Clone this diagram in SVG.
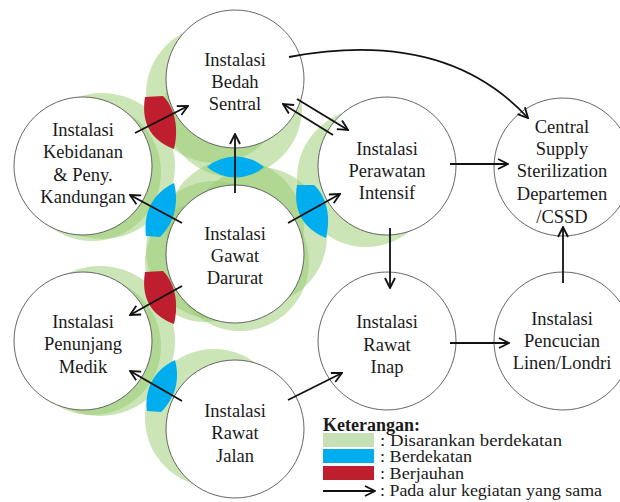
<svg xmlns="http://www.w3.org/2000/svg" width="620" height="502" viewBox="0 0 620 502">
<defs>
<style>
.g{fill:#98cc70;fill-opacity:0.5}
.blue{fill:#00aeef}
.red{fill:#be1e2d}
.node{fill:#fff;stroke:#555;stroke-width:0.9}
.t{font-family:"Liberation Serif","Times New Roman",serif;font-size:18.5px;fill:#1a1a1a;text-anchor:middle}
.lt{font-family:"Liberation Serif","Times New Roman",serif;font-size:16px;fill:#1a1a1a}
.c{fill:none;stroke:#111;stroke-width:1.8}
</style>
<marker id="ah" viewBox="0 0 12 12" refX="11" refY="6" markerWidth="12" markerHeight="12" markerUnits="userSpaceOnUse" orient="auto">
<path d="M1,1 L11,6 L1,11" fill="none" stroke="#111" stroke-width="1.8"/>
</marker>
</defs>
<rect width="620" height="502" fill="#fff"/>
<g id="zones">
<circle class="g" cx="102" cy="166" r="73"/>
<circle class="g" cx="92" cy="172" r="69"/>
<circle class="g" cx="100" cy="341" r="75"/>
<circle class="g" cx="92" cy="346" r="69"/>
<circle class="g" cx="215" cy="94" r="69"/>
<circle class="g" cx="233" cy="108" r="69"/>
<circle class="g" cx="235" cy="228" r="69"/>
<circle class="g" cx="215" cy="250" r="69"/>
<circle class="g" cx="205" cy="262" r="60"/>
<circle class="g" cx="258" cy="236" r="69"/>
<circle class="g" cx="240" cy="262" r="69"/>
<circle class="g" cx="366" cy="178" r="69"/>
<circle class="g" cx="214" cy="418" r="69"/>
<path class="red" d="M145,97 C141,122 150,140 174,149 C179,128 175,108 163,96 Z"/>
<path class="blue" d="M174,183 C153,193 143,212 146,236 L160,237 C175,222 179,202 174,183 Z"/>
<path class="red" d="M145,272 C141,297 150,315 174,324 C179,303 175,283 163,271 Z"/>
<path class="blue" d="M175,360 C154,370 144,389 147,411 L161,412 C176,397 180,379 175,360 Z"/>
<path class="blue" d="M297,185 C293,210 302,228 326,238 C331,217 327,197 314,185 Z"/>
<path class="blue" d="M207,167 A44,44 0 0,1 264,167 A44,44 0 0,1 207,167 Z"/>
</g>
<g id="bedah"><circle class="node" cx="235" cy="79" r="69"/><text class="t" x="235" y="65.5">Instalasi</text><text class="t" x="235" y="88">Bedah</text><text class="t" x="235" y="110">Sentral</text></g>
<g id="kebidanan"><circle class="node" cx="83" cy="166" r="69"/><text class="t" x="83" y="136">Instalasi</text><text class="t" x="83" y="158">Kebidanan</text><text class="t" x="83" y="181">&amp; Peny.</text><text class="t" x="83" y="203">Kandungan</text></g>
<g id="perawatan"><circle class="node" cx="387" cy="166" r="69"/><text class="t" x="387" y="155">Instalasi</text><text class="t" x="387" y="177">Perawatan</text><text class="t" x="387" y="199">Intensif</text></g>
<g id="cssd"><circle class="node" cx="563" cy="167" r="69"/><text class="t" x="562" y="133">Central</text><text class="t" x="562" y="155">Supply</text><text class="t" x="562" y="177">Sterilization</text><text class="t" x="562" y="200">Departemen</text><text class="t" x="562" y="222.5">/CSSD</text></g>
<g id="gawat"><circle class="node" cx="235" cy="254" r="69"/><text class="t" x="235" y="240">Instalasi</text><text class="t" x="235" y="262">Gawat</text><text class="t" x="235" y="284">Darurat</text></g>
<g id="penunjang"><circle class="node" cx="83" cy="341" r="69"/><text class="t" x="83" y="328">Instalasi</text><text class="t" x="83" y="350">Penunjang</text><text class="t" x="83" y="372.5">Medik</text></g>
<g id="rawatjalan"><circle class="node" cx="235" cy="429" r="69"/><text class="t" x="235" y="416.5">Instalasi</text><text class="t" x="235" y="439">Rawat</text><text class="t" x="235" y="461.5">Jalan</text></g>
<g id="rawatinap"><circle class="node" cx="387" cy="341" r="69"/><text class="t" x="387" y="328">Instalasi</text><text class="t" x="387" y="350.5">Rawat</text><text class="t" x="387" y="372.5">Inap</text></g>
<g id="pencucian"><circle class="node" cx="563" cy="341" r="69"/><text class="t" x="562" y="325">Instalasi</text><text class="t" x="562" y="347">Pencucian</text><text class="t" x="562" y="369">Linen/Londri</text></g>
<g id="connectors">
<line class="c" x1="135" y1="133" x2="188" y2="106" marker-end="url(#ah)"/>
<line class="c" x1="235" y1="193" x2="235" y2="134" marker-end="url(#ah)"/>
<line class="c" x1="182" y1="223" x2="130" y2="195" marker-end="url(#ah)"/>
<line class="c" x1="288" y1="223" x2="340" y2="194" marker-end="url(#ah)"/>
<line class="c" x1="182" y1="286" x2="130" y2="315" marker-end="url(#ah)"/>
<line class="c" x1="182" y1="401" x2="130" y2="371" marker-end="url(#ah)"/>
<line class="c" x1="288" y1="400" x2="342" y2="373" marker-end="url(#ah)"/>
<line class="c" x1="297" y1="99" x2="348" y2="130" marker-end="url(#ah)"/>
<line class="c" x1="333" y1="135" x2="283" y2="104" marker-end="url(#ah)"/>
<path class="c" d="M289,57 Q445,28 528,118" marker-end="url(#ah)"/>
<line class="c" x1="450" y1="164" x2="508" y2="164" marker-end="url(#ah)"/>
<line class="c" x1="390" y1="228" x2="390" y2="288" marker-end="url(#ah)"/>
<line class="c" x1="450" y1="343" x2="509" y2="343" marker-end="url(#ah)"/>
<line class="c" x1="563" y1="283" x2="563" y2="227" marker-end="url(#ah)"/>
</g>
<g id="legend">
<text x="323" y="431" style="font-family:'Liberation Serif','Times New Roman',serif;font-size:18px;font-weight:bold;fill:#1a1a1a">Keterangan:</text>
<rect x="323" y="433" width="51" height="14" fill="#c5e0b4"/>
<rect x="323" y="449" width="51" height="14" class="blue"/>
<rect x="323" y="466" width="51" height="14" class="red"/>
<line class="c" x1="323" y1="491" x2="375" y2="491" marker-end="url(#ah)"/>
<text class="lt" x="380" y="446" textLength="182" lengthAdjust="spacingAndGlyphs">: Disarankan berdekatan</text>
<text class="lt" x="380" y="462" textLength="92" lengthAdjust="spacingAndGlyphs">: Berdekatan</text>
<text class="lt" x="380" y="479" textLength="84" lengthAdjust="spacingAndGlyphs">: Berjauhan</text>
<text class="lt" x="380" y="496" textLength="222" lengthAdjust="spacingAndGlyphs">: Pada alur kegiatan yang sama</text>
</g>
</svg>
